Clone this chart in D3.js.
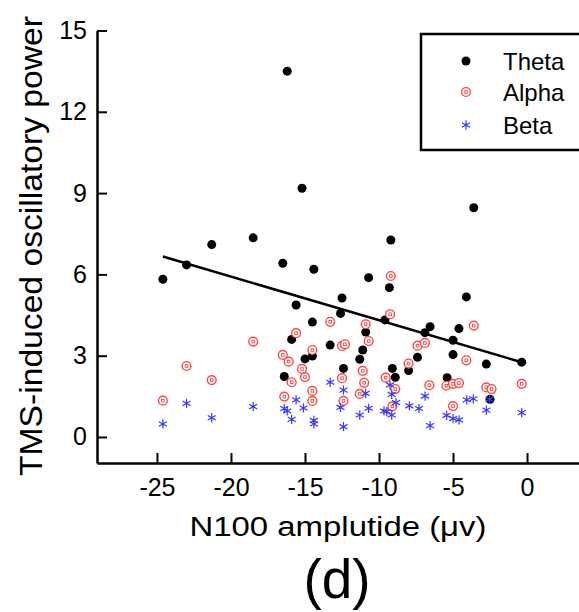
<!DOCTYPE html>
<html>
<head>
<meta charset="utf-8">
<script src="https://cdn.jsdelivr.net/npm/d3@7"></script>
<style>
  body { margin: 0; background: #fff; }
  text { font-family: "Liberation Sans", Arial, sans-serif; fill: #000; }
</style>
</head>
<body>
<svg id="chart" width="579" height="612"></svg>
<script>
// Data: [N100 amplitude, power]
const theta = [
  [-24.6, 5.82], [-23.0, 6.35], [-21.3, 7.10], [-18.5, 7.35], [-16.2, 13.5],
  [-15.2, 9.18], [-9.2, 7.27], [-16.5, 6.41], [-14.4, 6.19], [-10.7, 5.88],
  [-9.3, 5.51], [-12.5, 5.13], [-15.6, 4.87], [-12.6, 4.56], [-14.5, 4.24],
  [-9.6, 4.32], [-10.9, 3.87], [-15.9, 3.60], [-13.3, 3.39], [-11.1, 3.21],
  [-15.0, 2.88], [-14.5, 2.99], [-11.3, 2.87], [-7.4, 2.94], [-12.4, 2.53],
  [-9.1, 2.53], [-8.0, 2.45], [-16.4, 2.23], [-8.9, 2.20], [-3.6, 8.46],
  [-4.1, 5.17], [-6.55, 4.07], [-6.9, 3.85], [-4.6, 4.00], [-5.0, 3.57],
  [-5.0, 3.04], [-5.4, 2.19], [-2.75, 2.69], [-0.36, 2.76], [-2.5, 1.39]
];
const alpha = [
  [-24.6, 1.34], [-23.0, 2.62], [-21.3, 2.10], [-18.5, 3.52], [-15.6, 3.83],
  [-13.3, 4.25], [-10.9, 4.16], [-9.2, 5.94], [-9.25, 4.53], [-16.5, 3.03],
  [-16.1, 2.78], [-14.5, 3.21], [-12.5, 3.36], [-12.3, 3.42], [-10.7, 3.54],
  [-7.4, 3.37], [-6.9, 3.47], [-15.2, 2.51], [-15.0, 2.21], [-15.9, 2.02],
  [-12.5, 2.17], [-11.1, 2.44], [-11.0, 2.00], [-9.55, 2.19], [-16.4, 1.49],
  [-14.5, 1.70], [-14.5, 1.33], [-12.4, 1.33], [-11.3, 1.59], [-8.9, 1.77],
  [-9.1, 1.13], [-8.0, 2.71], [-6.6, 1.91], [-5.45, 1.89], [-5.0, 1.96],
  [-4.6, 1.99], [-5.0, 1.14], [-3.6, 4.11], [-4.1, 2.83], [-2.75, 1.83],
  [-2.4, 1.77], [-0.36, 1.96]
];
const beta = [
  [-24.6, 0.48], [-23.0, 1.24], [-21.3, 0.71], [-18.5, 1.12], [-15.6, 1.37],
  [-16.4, 1.05], [-16.2, 0.96], [-15.9, 0.65], [-15.1, 1.07], [-14.4, 0.61],
  [-14.4, 0.48], [-13.3, 2.02], [-12.4, 1.73], [-12.6, 1.09], [-12.4, 0.38],
  [-10.9, 1.61], [-11.3, 0.81], [-10.7, 1.06], [-9.66, 0.96], [-9.26, 1.92],
  [-9.14, 1.57], [-8.85, 1.27], [-9.48, 0.94], [-9.14, 0.81], [-7.95, 1.15],
  [-7.3, 1.05], [-6.89, 1.51], [-6.55, 0.42], [-5.43, 0.80], [-5.0, 0.68],
  [-4.59, 0.63], [-4.07, 1.37], [-3.63, 1.41], [-2.75, 0.99], [-2.53, 1.39],
  [-0.36, 0.90]
];
// linear fit of theta
const fitIntercept = 2.70;
const fitSlope = -0.161;

const xTicks = [-25, -20, -15, -10, -5, 0];
const yTicks = [0, 3, 6, 9, 12, 15];
const legendNames = ["Theta", "Alpha", "Beta"];

const svg = d3.select("#chart");

const x = d3.scaleLinear().domain([-29.05, 3.51]).range([97, 579]);
const y = d3.scaleLinear().domain([-0.96, 15]).range([463, 30.5]);

// Axes with inward ticks, plain hyphen for negatives
const xAxis = svg.append("g")
    .attr("transform", `translate(0,${y.range()[0]})`)
    .call(d3.axisBottom(x).tickValues(xTicks).tickFormat(d => String(d))
        .tickSizeInner(-10).tickSizeOuter(0).tickPadding(15));
const yAxis = svg.append("g")
    .attr("transform", `translate(${x.range()[0]},0)`)
    .call(d3.axisLeft(y).tickValues(yTicks).tickFormat(d => String(d))
        .tickSizeInner(-10).tickSizeOuter(0).tickPadding(10));

[xAxis, yAxis].forEach(g => {
    g.select(".domain").attr("stroke", "#000").attr("stroke-width", 2.5);
    g.selectAll(".tick line").attr("stroke", "#000").attr("stroke-width", 2);
    g.selectAll(".tick text").style("font-size", "25px").attr("fill", "#000")
        .style("font-family", '"Liberation Sans", Arial, sans-serif');
});

// Regression line
const xExt = d3.extent(theta, d => d[0]);
svg.append("line")
    .attr("x1", x(xExt[0])).attr("y1", y(fitIntercept + fitSlope * xExt[0]))
    .attr("x2", x(xExt[1])).attr("y2", y(fitIntercept + fitSlope * xExt[1]))
    .attr("stroke", "#000").attr("stroke-width", 2.5);

// Markers
const red = "#ff4646";
const blue = "#3838ff";
const star = d3.symbol().type(d3.symbolAsterisk).size(60);

function drawTheta(g) {
    g.append("circle").attr("r", 4.5).attr("fill", "#000");
}
function drawAlpha(g) {
    g.append("circle").attr("r", 4.4).attr("fill", "#fff").attr("stroke", red).attr("stroke-width", 1.4);
    g.append("rect").attr("x", -1.3).attr("y", -1.3).attr("width", 2.6).attr("height", 2.6)
        .attr("fill", "none").attr("stroke", red).attr("stroke-width", 0.9);
}
function drawBeta(g) {
    g.append("path").attr("d", star).attr("fill", "none").attr("stroke", blue).attr("stroke-width", 1.2);
}

const series = [theta, alpha, beta];
const drawers = [drawTheta, drawAlpha, drawBeta];

series.forEach((data, i) => {
    svg.append("g").selectAll("g")
        .data(data)
        .enter().append("g")
        .attr("transform", d => `translate(${x(d[0])},${y(d[1])})`)
        .each(function () { drawers[i](d3.select(this)); });
});

// Legend
const legend = svg.append("g");
legend.append("rect")
    .attr("x", 421).attr("y", 34).attr("width", 200).attr("height", 116)
    .attr("fill", "#fff").attr("stroke", "#000").attr("stroke-width", 2.5);
const rowY = [61, 92, 125];
legendNames.forEach((name, i) => {
    const row = legend.append("g").attr("transform", `translate(466,${rowY[i]})`);
    drawers[i](row);
    legend.append("text")
        .attr("x", 503).attr("y", rowY[i] + 8.5)
        .style("font-size", "24px")
        .text(name);
});

// Titles
svg.append("text")
    .attr("x", 338).attr("y", 536)
    .attr("text-anchor", "middle")
    .attr("textLength", 297).attr("lengthAdjust", "spacingAndGlyphs")
    .style("font-size", "27px")
    .text("N100 amplutide (\u03bcv)");

svg.append("text")
    .attr("transform", "translate(42,246) rotate(-90)")
    .attr("text-anchor", "middle")
    .attr("textLength", 460).attr("lengthAdjust", "spacingAndGlyphs")
    .style("font-size", "31px")
    .text("TMS-induced oscillatory power");

svg.append("text")
    .attr("x", 337).attr("y", 598)
    .attr("text-anchor", "middle")
    .style("font-size", "55px")
    .text("(d)");
</script>
</body>
</html>
